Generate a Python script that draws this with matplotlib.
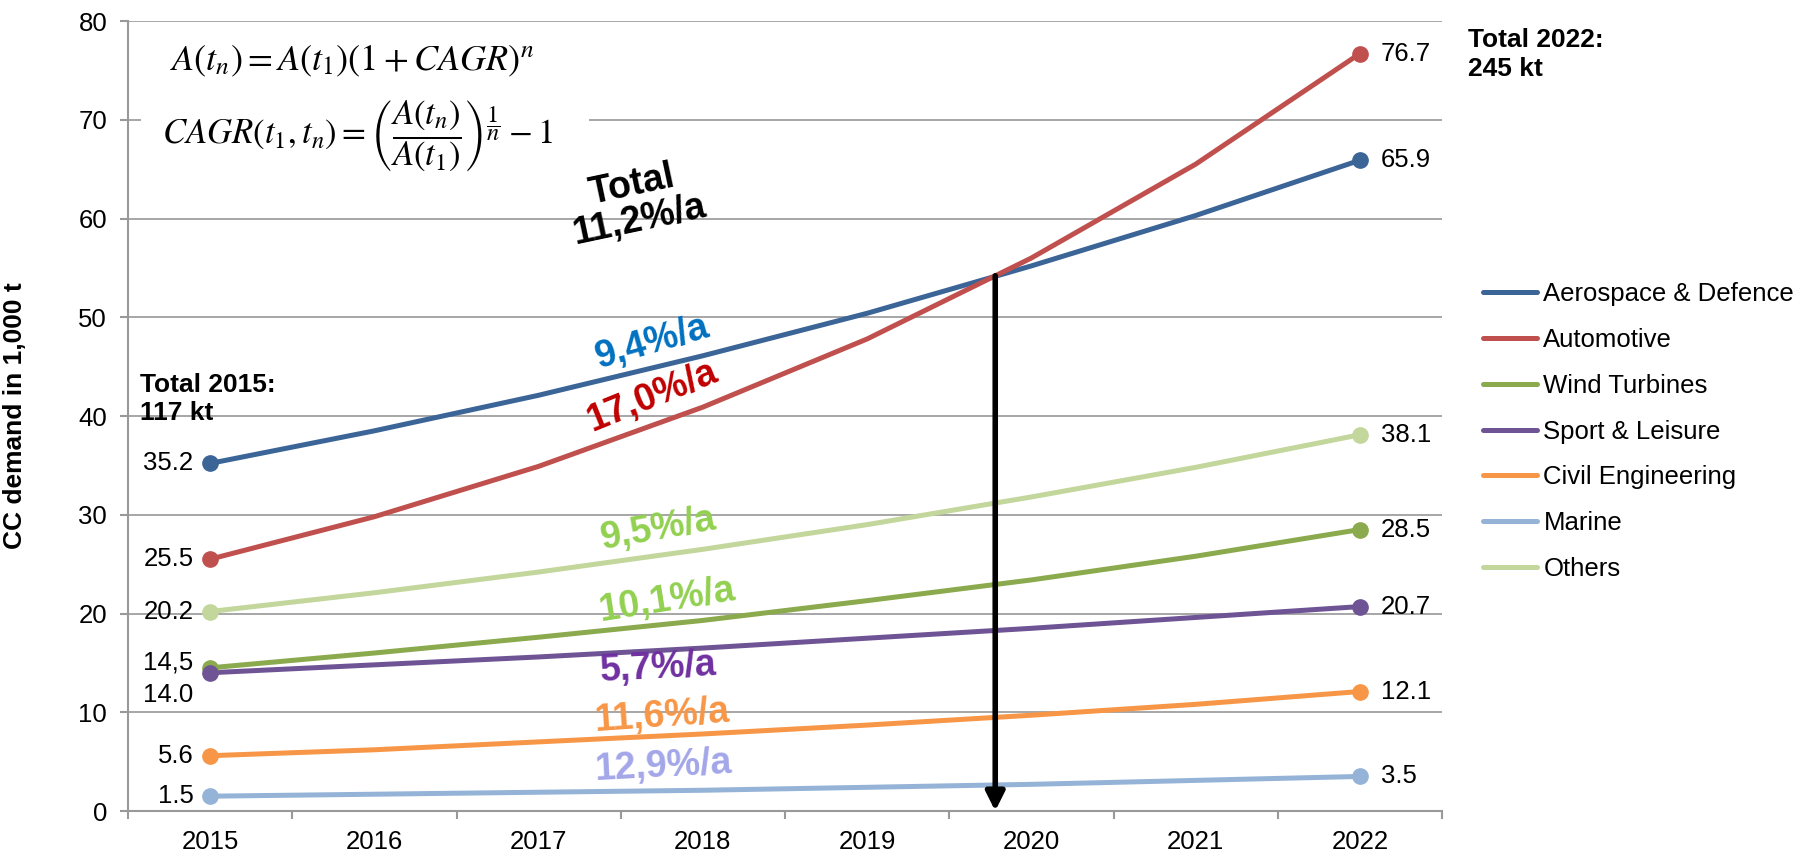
import matplotlib
matplotlib.use('Agg')
import matplotlib.pyplot as plt
from matplotlib.patches import Rectangle

plt.rcParams['font.family'] = ['Liberation Sans', 'DejaVu Sans']
plt.rcParams['mathtext.fontset'] = 'stix'

# Daten (in 1.000 t)
years = ['2015', '2016', '2017', '2018', '2019', '2020', '2021', '2022']
aerospace = [35.2, 38.5, 42.1, 46.1, 50.4, 55.2, 60.3, 65.9]
automotive = [25.5, 29.8, 34.9, 40.9, 47.8, 56.0, 65.5, 76.7]
wind = [14.5, 16.0, 17.6, 19.3, 21.3, 23.4, 25.8, 28.5]
sport = [14.0, 14.8, 15.6, 16.5, 17.5, 18.5, 19.6, 20.7]
civil = [5.6, 6.2, 7.0, 7.8, 8.7, 9.7, 10.8, 12.1]
marine = [1.5, 1.7, 1.9, 2.1, 2.4, 2.7, 3.1, 3.5]
others = [20.2, 22.1, 24.2, 26.5, 29.0, 31.8, 34.8, 38.1]

names = ['Aerospace & Defence', 'Automotive', 'Wind Turbines', 'Sport & Leisure',
         'Civil Engineering', 'Marine', 'Others']
series = [aerospace, automotive, wind, sport, civil, marine, others]
colors = ['#3B6497', '#C0504D', '#8BA94D', '#6E5494', '#F79646', '#95B3D7', '#C3D69B']
start_labels = ['35.2', '25.5', '14,5', '14.0', '5.6', '1.5', '20.2']
rates = ['9,4%/a', '17,0%/a', '10,1%/a', '5,7%/a', '11,6%/a', '12,9%/a', '9,5%/a']
rate_colors = ['#0070C0', '#C00000', '#92D050', '#7030A0', '#F79646', '#A3A6E8', '#92D050']
total_rate = 'Total\n11,2%/a'
total_2015 = 'Total 2015:\n117 kt'
total_2022 = 'Total 2022:\n245 kt'

fig = plt.figure(figsize=(18.1, 8.55), dpi=100)
ax = fig.add_axes([128 / 1810, 1 - 811 / 855, 1314 / 1810, 790 / 855])

x = list(range(len(years)))
for vals, name, col in zip(series, names, colors):
    ax.plot(x, vals, color=col, lw=3.6, label=name, zorder=3, solid_capstyle='round')
    ax.plot([x[0], x[-1]], [vals[0], vals[-1]], 'o', color=col, ms=11, zorder=4)

# Werte am Anfang und Ende
start_dy = [0, 0, 4, -16, 0, 0, 0]
for vals, lab, dy in zip(series, start_labels, start_dy):
    ax.annotate(lab, (x[0], vals[0]), xytext=(-12, dy), textcoords='offset points',
                ha='right', va='center', fontsize=18.5)
    ax.annotate(f'{vals[-1]:.1f}', (x[-1], vals[-1]), xytext=(15, 0), textcoords='offset points',
                ha='left', va='center', fontsize=18.5)

# Wachstumsraten
rate_pos = [(2.69, 47.4, 16), (2.69, 42.0, 22), (2.78, 21.3, 9), (2.73, 14.5, 3),
            (2.75, 9.6, 4), (2.76, 4.5, 3), (2.73, 28.5, 10)]
for r, c, (px, py, rot) in zip(rates, rate_colors, rate_pos):
    ax.text(px, py, r, color=c, fontsize=27, fontweight='bold', rotation=rot,
            ha='center', va='center', rotation_mode='anchor', zorder=5)
ax.text(2.59, 61.6, total_rate, fontsize=27, fontweight='bold', rotation=12,
        ha='center', va='center', multialignment='center', rotation_mode='anchor',
        linespacing=1.0, zorder=5)

# Formeln mit weissem Hintergrund
ax.add_patch(Rectangle((0.0099, 0.78), 0.341, 0.2, transform=ax.transAxes,
                       facecolor='white', edgecolor='none', zorder=1))
ax.text(-0.243, 76.0, r'$A(t_n) = A(t_1)(1 + CAGR)^n$', fontsize=26, ha='left', va='center', zorder=2)
ax.text(-0.29, 68.3, r'$CAGR(t_1, t_n) = \left(\dfrac{A(t_n)}{A(t_1)}\right)^{\dfrac{1}{n}} - 1$',
        fontsize=25, ha='left', va='center', zorder=2)

ax.text(0.009, 44.4, total_2015, transform=ax.get_yaxis_transform(), fontsize=19,
        fontweight='bold', ha='left', va='top', linespacing=1.25, zorder=5)
fig.text(1468 / 1810, 1 - 28 / 855, total_2022, fontsize=19, fontweight='bold',
         ha='left', va='top', linespacing=1.25)

# Pfeil beim Schnittpunkt
ax.annotate('', xy=(4.78, 0), xytext=(4.78, 54.2),
            arrowprops=dict(arrowstyle='-|>', lw=4, color='black', mutation_scale=28,
                            shrinkA=0, shrinkB=0), zorder=6)

ax.set_xlim(-0.5, 7.5)
ax.set_ylim(0, 80)
ax.set_xticks(x)
ax.set_xticklabels(years)
ax.set_xticks([i - 0.5 for i in range(len(years) + 1)], minor=True)
ax.set_yticks(range(0, 81, 10))
ax.tick_params(axis='x', which='major', length=0, pad=14, labelsize=18.5)
ax.tick_params(axis='x', which='minor', length=6, width=1.5, color='#999999')
ax.tick_params(axis='y', length=6, width=1.5, color='#999999', pad=9, labelsize=18.5)
ax.grid(axis='y', color='#A6A6A6', lw=1.4)
ax.set_axisbelow(True)
for s in ['top', 'right']:
    ax.spines[s].set_visible(False)
for s in ['left', 'bottom']:
    ax.spines[s].set_color('#999999')
    ax.spines[s].set_linewidth(1.5)

ax.set_ylabel('CC demand in 1,000 t', fontsize=19, fontweight='bold')
ax.yaxis.set_label_coords(-(128 - 27) / 1314, 0.5)

ax.legend(loc='upper left', bbox_to_anchor=(1483 / 1810, 1 - 282 / 855),
          bbox_transform=fig.transFigure, frameon=False, fontsize=18.5,
          handlelength=2.1, handletextpad=0.25, labelspacing=0.85,
          borderpad=0, borderaxespad=0)

fig.savefig('out.png', dpi=100)
